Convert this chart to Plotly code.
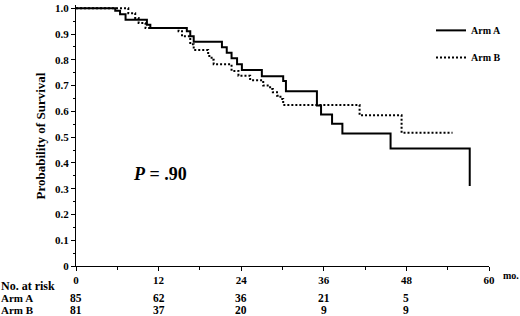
import plotly.graph_objects as go

# Kaplan-Meier step data (months, survival probability)
months_a = [0, 5.7, 6.4, 7.2, 10.3, 10.8, 16.1, 16.6, 17.1, 21.2, 21.9, 22.6, 23.4, 24.1,
            27.0, 30.1, 30.5, 35.0, 35.6, 37.2, 38.7, 45.7, 57.2]
surv_a = [1.0, 0.990, 0.977, 0.955, 0.936, 0.923, 0.911, 0.891, 0.870, 0.849, 0.827, 0.806, 0.783, 0.760,
          0.736, 0.718, 0.678, 0.623, 0.588, 0.552, 0.514, 0.456, 0.31]

months_b = [0, 7.6, 8.6, 9.1, 10.1, 14.9, 15.4, 16.6, 17.1, 19.2, 19.7, 20.0, 22.6, 23.6,
            25.3, 27.2, 28.2, 28.6, 29.2, 29.7, 30.1, 41.2, 47.3, 54.7]
surv_b = [1.0, 0.981, 0.962, 0.943, 0.923, 0.911, 0.891, 0.860, 0.838, 0.815, 0.800, 0.783, 0.757, 0.738,
          0.721, 0.700, 0.687, 0.674, 0.661, 0.648, 0.625, 0.585, 0.517, 0.517]

series_names = ["Arm A", "Arm B"]

x_ticks = [0, 12, 24, 36, 48, 60]
x_tick_labels = ["0", "12", "24", "36", "48", "60"]
y_ticks = [0, 0.1, 0.2, 0.3, 0.4, 0.5, 0.6, 0.7, 0.8, 0.9, 1.0]
y_tick_labels = ["0", "0.1", "0.2", "0.3", "0.4", "0.5", "0.6", "0.7", "0.8", "0.9", "1.0"]

risk_times = [0, 12, 24, 36, 48]
risk_a = [85, 62, 36, 21, 5]
risk_b = [81, 37, 20, 9, 9]

FONT = "Liberation Serif"

fig = go.Figure()
fig.add_trace(go.Scatter(x=months_a, y=surv_a, mode="lines", line_shape="hv",
                         line=dict(color="black", width=2), name=series_names[0],
                         legendgroup="a"))
fig.add_trace(go.Scatter(x=months_b, y=surv_b, mode="lines", line_shape="hv",
                         line=dict(color="black", width=2, dash="2px,2px"), name=series_names[1],
                         legendgroup="b"))

L, R, T, B = 76, 31, 2, 50
W, H = 520, 316
plot_w = W - L - R
plot_h = H - T - B
px_per_unit = 260.7
y_top = plot_h / px_per_unit


def py_to_paper(py):
    return (H - B - py) / plot_h


def px_to_paper(px):
    return (px - L) / plot_w


fig.update_layout(
    width=W, height=H,
    margin=dict(l=L, r=R, t=T, b=B),
    paper_bgcolor="white", plot_bgcolor="white",
    font=dict(family=FONT, color="black", size=11, weight="bold"),
    showlegend=True,
    legend=dict(x=px_to_paper(431), y=py_to_paper(13), xanchor="left", yanchor="top",
                font=dict(family=FONT, size=10, weight="bold", color="black"),
                bgcolor="rgba(0,0,0,0)", tracegroupgap=8),
    xaxis=dict(range=[0, 60], tickvals=x_ticks, ticktext=x_tick_labels,
               showline=True, linecolor="black", linewidth=1, ticks="outside", ticklen=4,
               tickcolor="black", showgrid=False, zeroline=False, ticklabeloverflow="allow",
               tickfont=dict(family=FONT, size=11, weight="bold"),
               minor=dict(dtick=6, tick0=0, ticks="outside", ticklen=3, tickcolor="black", showgrid=False)),
    yaxis=dict(range=[0, y_top], tickvals=y_ticks, ticktext=y_tick_labels,
               showline=True, linecolor="black", linewidth=1, ticks="outside", ticklen=4,
               tickcolor="black", showgrid=False, zeroline=False, ticklabeloverflow="allow",
               tickfont=dict(family=FONT, size=11, weight="bold"),
               minor=dict(dtick=0.05, tick0=0, ticks="outside", ticklen=2, tickcolor="black", showgrid=False)),
)

ann = []
ann.append(dict(text="Probability of Survival", x=px_to_paper(40), y=py_to_paper(135),
                xref="paper", yref="paper", xanchor="center", yanchor="middle",
                textangle=-90, showarrow=False,
                font=dict(family=FONT, size=13, weight="bold")))
ann.append(dict(text="<i>P</i> = .90", x=12.2, y=0.356, xref="x", yref="y", showarrow=False,
                xanchor="center", yanchor="middle",
                font=dict(family=FONT, size=18, weight="bold")))
ann.append(dict(text="mo.", x=px_to_paper(502), y=py_to_paper(276), xref="paper", yref="paper",
                xanchor="left", yanchor="middle", showarrow=False, borderpad=0,
                font=dict(family=FONT, size=10, weight="bold")))
row_labels = ["No. at risk", "Arm A", "Arm B"]
row_py = [286, 298.5, 311]
ROW_FS = 11
for lab, py in zip(row_labels, row_py):
    ann.append(dict(text=lab, x=px_to_paper(0), y=py_to_paper(py), xref="paper", yref="paper",
                    xanchor="left", yanchor="middle", showarrow=False, borderpad=0,
                    font=dict(family=FONT, size=ROW_FS + (1 if lab.startswith("No.") else 0), weight="bold")))
for t, a, b in zip(risk_times, risk_a, risk_b):
    ann.append(dict(text=str(a), x=t, y=py_to_paper(row_py[1]), xref="x", yref="paper",
                    xanchor="center", yanchor="middle", showarrow=False, borderpad=0,
                    font=dict(family=FONT, size=ROW_FS + 0.5, weight="bold")))
    ann.append(dict(text=str(b), x=t, y=py_to_paper(row_py[2]), xref="x", yref="paper",
                    xanchor="center", yanchor="middle", showarrow=False, borderpad=0,
                    font=dict(family=FONT, size=ROW_FS + 0.5, weight="bold")))
fig.update_layout(annotations=ann)

fig.write_html("out.html", config={"displayModeBar": False},
               post_script="document.body.style.margin='0';document.body.style.overflow='hidden';")
